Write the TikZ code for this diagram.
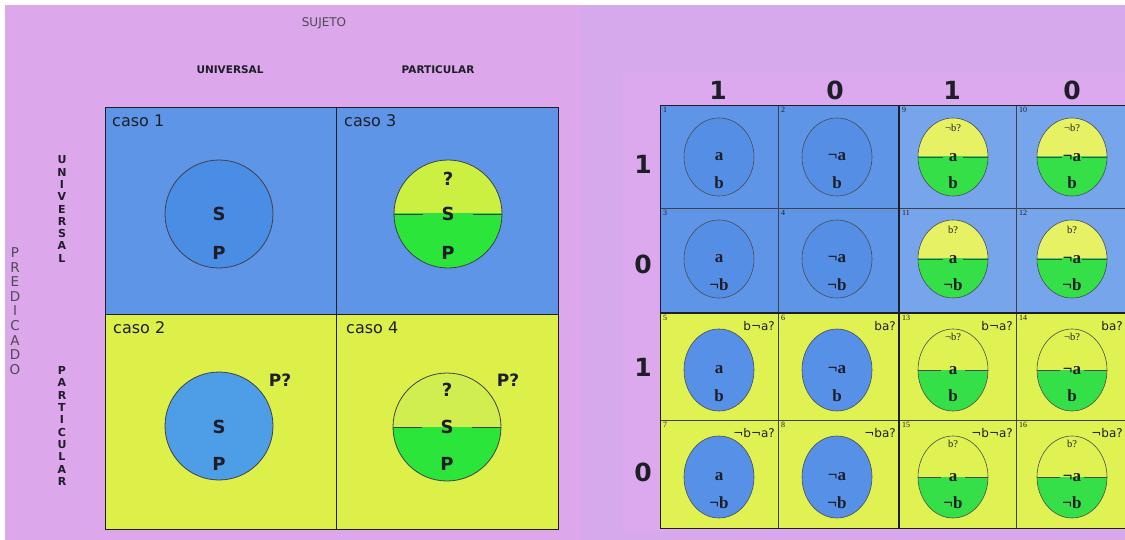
\documentclass[tikz,border=0pt]{standalone}
\usepackage{fontspec}
\setmainfont{DejaVu Sans}
\newfontfamily\tnr{Liberation Serif}

\definecolor{paperwhite}{HTML}{FFFFFF}
\definecolor{panelL}{HTML}{DDA7EC}
\definecolor{panelR}{HTML}{D6A9EC}
\definecolor{panelRin}{HTML}{DDA9EE}
\definecolor{bgBlue}{HTML}{5F95E7}
\definecolor{bgBlueLight}{HTML}{77A5EC}
\definecolor{bgYel}{HTML}{DDF049}
\definecolor{discBlueA}{HTML}{4A8DE5}
\definecolor{discBlueB}{HTML}{4E9EE7}
\definecolor{halfYelA}{HTML}{CCF041}
\definecolor{halfYelB}{HTML}{D0EE50}
\definecolor{halfGreen}{HTML}{2BE53B}
\definecolor{ovBlue}{HTML}{558FE5}
\definecolor{ovBlueY}{HTML}{5690E7}
\definecolor{ovYel}{HTML}{E6F163}
\definecolor{ovGreen}{HTML}{35DF48}
\definecolor{cellYel}{HTML}{E0F152}
\definecolor{inkdark}{HTML}{1E1E28}

\tikzset{
  gridline/.style={draw=inkdark, line width=0.9pt},
  thinline/.style={draw=inkdark!85, line width=0.6pt},
  thickline/.style={draw=inkdark, line width=1.8pt},
  discedge/.style={draw=inkdark!85, line width=0.8pt},
  ovaledge/.style={draw=inkdark!80, line width=0.6pt},
  caselbl/.style={anchor=base west, inner sep=0pt, font=\fontsize{16}{18}\selectfont, text=inkdark},
  biglet/.style={inner sep=0pt, font=\bfseries\fontsize{18}{20}\selectfont, text=inkdark},
  headlbl/.style={inner sep=0pt, font=\bfseries\fontsize{10.5}{12}\selectfont, text=inkdark},
  toplbl/.style={inner sep=0pt, font=\fontsize{12}{14}\selectfont, text=inkdark!80},
  vertlbl/.style={inner sep=0pt, align=center, text=inkdark},
  digit/.style={inner sep=0pt, font=\bfseries\fontsize{25}{30}\selectfont, text=inkdark},
  ovlbl/.style={inner sep=0pt, font=\tnr\bfseries\fontsize{17}{19}\selectfont, text=inkdark},
  qlbl/.style={inner sep=0pt, font=\tnr\fontsize{10.5}{12}\selectfont, text=inkdark},
  numlbl/.style={anchor=north west, inner sep=0pt, font=\tnr\fontsize{8}{9}\selectfont, text=inkdark},
  cornerlbl/.style={anchor=north east, inner sep=0pt, font=\fontsize{12}{14}\selectfont, text=inkdark},
}

% split oval: centre x, centre y, x radius, y radius, upper fill, lower fill, half gap of the rule
\newcommand{\splitoval}[8]{%
  \begin{scope}
    \clip ({#1-#3-2},{#2-#4-2}) rectangle ({#1+#3+2},#2);
    \path[fill=#5] (#1,#2) ellipse [x radius=#3pt, y radius=#4pt];
  \end{scope}
  \begin{scope}
    \clip ({#1-#3-2},#2) rectangle ({#1+#3+2},{#2+#4+2});
    \path[fill=#6] (#1,#2) ellipse [x radius=#3pt, y radius=#4pt];
  \end{scope}
  \draw[#8] (#1,#2) ellipse [x radius=#3pt, y radius=#4pt];
  \draw[#8] ({#1-#3},#2) -- ({#1-#7},#2) ({#1+#7},#2) -- ({#1+#3},#2);
}

\begin{document}
\begin{tikzpicture}[x=1pt,y=-1pt]
\useasboundingbox (0,0) rectangle (1125,540);
\clip (0,0) rectangle (1125,540);

% backgrounds
\fill[paperwhite] (0,0) rectangle (1125,540);
\fill[panelL] (5,5) rectangle (580,540);
\fill[panelR] (580,5) rectangle (1125,540);
\fill[panelRin] (623,72) rectangle (1125,533);

% ---------------- left table ----------------
\node[toplbl] (sujeto) at (324,23) {SUJETO};
\node[headlbl] (hUniv) at (230,70) {UNIVERSAL};
\node[headlbl] (hPart) at (438,70) {PARTICULAR};

\node[vertlbl, font=\fontsize{13.5}{14.6}\selectfont, text=inkdark!80] (predicado) at (15,311)
  {P\\R\\E\\D\\I\\C\\A\\D\\O};
\node[vertlbl, font=\bfseries\fontsize{11}{12.3}\selectfont] (vUniv) at (62,209)
  {U\\N\\I\\V\\E\\R\\S\\A\\L};
\node[vertlbl, font=\bfseries\fontsize{11}{12.3}\selectfont] (vPart) at (62,426)
  {P\\A\\R\\T\\I\\C\\U\\L\\A\\R};

\fill[bgBlue] (105,107) rectangle (558,314);
\fill[bgYel] (105,314) rectangle (558,529);
\draw[gridline] (105,107) rectangle (558,529);
\draw[gridline] (336,107) -- (336,529);
\draw[gridline] (105,314) -- (558,314);

\node[caselbl] (caso1) at (112,127) {caso 1};
\node[caselbl] (caso3) at (344,127) {caso 3};
\node[caselbl] (caso2) at (113,333) {caso 2};
\node[caselbl] (caso4) at (346,333) {caso 4};

% caso 1
\filldraw[fill=discBlueA, discedge] (219,214) circle [radius=54pt];
\node[biglet] (s1) at (219,214) {S};
\node[biglet] (p1) at (219,253) {P};

% caso 3
\splitoval{448}{214}{54}{54}{halfYelA}{halfGreen}{25}{discedge}
\node[biglet] (q3) at (448,179) {?};
\node[biglet] (s3) at (448,214) {S};
\node[biglet] (p3) at (448,253) {P};

% caso 2
\filldraw[fill=discBlueB, discedge] (219,426) circle [radius=54pt];
\node[biglet] (s2) at (219,427) {S};
\node[biglet] (p2) at (219,464) {P};
\node[biglet, font=\bfseries\fontsize{17}{19}\selectfont] (pq2) at (280,380) {P?};

% caso 4
\splitoval{447}{427}{54}{54}{halfYelB}{halfGreen}{25}{discedge}
\node[biglet] (q4) at (447,390) {?};
\node[biglet] (s4) at (447,427) {S};
\node[biglet] (p4) at (447,464) {P};
\node[biglet, font=\bfseries\fontsize{17}{19}\selectfont] (pq4) at (508,380) {P?};

% ---------------- right table ----------------
\node[digit] (c1) at (718,90) {1};
\node[digit] (c2) at (835,90) {0};
\node[digit] (c3) at (952,90) {1};
\node[digit] (c4) at (1072,90) {0};
\node[digit] (r1) at (643,164) {1};
\node[digit] (r2) at (643,264) {0};
\node[digit] (r3) at (643,367) {1};
\node[digit] (r4) at (643,472) {0};

\foreach \c/\cl/\cr/\cx/\toplab/\half/\csuf in {
    1/660/778/719/a/0/{¬a?},
    2/778/899/837/{¬a}/0/{a?},
    3/899/1016/953/a/1/{¬a?},
    4/1016/1132/1072/{¬a}/1/{a?}}{
  \foreach \r/\rt/\rb/\cy/\ry/\botlab/\qlab/\cpre in {
      1/105/208/157/39/b/{¬b?}/{},
      2/208/313/259/39/{¬b}/{b?}/{},
      3/313/420/370/41/b/{¬b?}/b,
      4/420/528/477/41/{¬b}/{b?}/{¬b}}{
    \pgfmathtruncatemacro{\n}{(\c>2)*8 + (\r-1)*2 + \c - 2*(\c>2)}
    % cell ground
    \ifnum\r<3
      \ifnum\c<3 \fill[bgBlue] (\cl,\rt) rectangle (\cr,\rb);
      \else \fill[bgBlueLight] (\cl,\rt) rectangle (\cr,\rb); \fi
    \else
      \fill[cellYel] (\cl,\rt) rectangle (\cr,\rb);
    \fi
    \draw[thinline] (\cl,\rt) rectangle (\cr,\rb);
    % oval
    \ifnum\half=0
      \ifnum\r<3
        \filldraw[fill=ovBlue, ovaledge] (\cx,\cy) ellipse [x radius=35pt, y radius=\ry pt];
      \else
        \filldraw[fill=ovBlueY, ovaledge] (\cx,\cy) ellipse [x radius=35pt, y radius=\ry pt];
      \fi
      \node[ovlbl] (top\n) at (\cx,\cy) {\toplab};
      \node[ovlbl] (bot\n) at (\cx,{\cy+26}) {\botlab};
    \else
      \ifnum\r<3
        \splitoval{\cx}{\cy}{35}{\ry}{ovYel}{ovGreen}{10}{ovaledge}
        \node[qlbl] (q\n) at (\cx,{\cy-29}) {\qlab};
      \else
        \splitoval{\cx}{\cy}{35}{\ry}{none}{ovGreen}{12}{ovaledge}
        \node[qlbl] (q\n) at (\cx,{\cy-33}) {\qlab};
      \fi
      \node[ovlbl] (top\n) at (\cx,{\cy+1}) {\toplab};
      \node[ovlbl] (bot\n) at (\cx,{\cy+26}) {\botlab};
    \fi
    \node[numlbl] (num\n) at ({\cl+3},{\rt+2}) {\n};
    \ifnum\r>2
      \node[cornerlbl] (corner\n) at ({min(\cr,1126)-3},{\rt+8}) {\cpre\csuf};
    \fi
  }
}
% heavier rules between the four blocks
\draw[thickline] (899,105) -- (899,528);
\draw[thickline] (660,313) -- (1132,313);
\draw[gridline] (660,105) rectangle (1132,528);
\end{tikzpicture}
\end{document}
